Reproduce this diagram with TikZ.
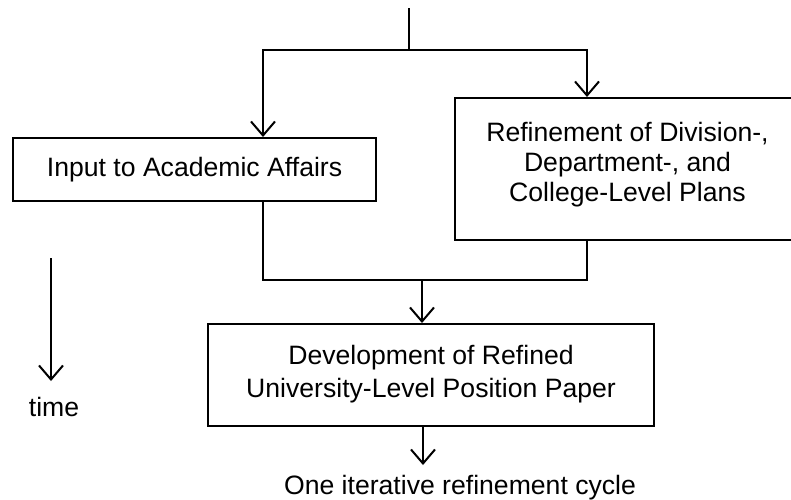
\documentclass[tikz,border=0pt]{standalone}
\usepackage{fontspec}
\setmainfont{Liberation Sans}
\usetikzlibrary{arrows.meta}
\begin{document}
\begin{tikzpicture}[x=1pt,y=1pt,
  font=\fontsize{26.6}{30}\selectfont,
  line width=2pt,
  box/.style={draw,line width=2pt,rectangle,align=center,inner sep=0pt},
  arr/.style={-{Straight Barb[length=14pt,width=24pt,line width=2pt]}}]
\useasboundingbox (0,0) rectangle (791,-499);
\node[box,minimum width=363pt,minimum height=63pt] (input) at (194.5,-169.5) {Input to Academic Affairs};
\node[box,minimum width=345pt,minimum height=142pt,text depth=14pt] (refine) at (627.5,-169) {Refinement of Division-,\\Department-, and\\College-Level Plans};
\node[box,minimum width=446pt,minimum height=102pt,text depth=8pt] (dev) at (431,-375) {Development of Refined\\[3pt]University-Level Position Paper};
\node (cycle) at (460,-488) {One iterative refinement cycle};
\node (time) at (54,-407) {time};
\coordinate (top) at (409,-8);
\coordinate (split) at (409,-50);
\coordinate (tstart) at (51,-258);
\coordinate (tend) at (51,-381);
\coordinate (join) at (422,-280);
\draw (top) -- (split);
\draw[arr] (split) -| (input.north -| 263,0);
\draw[arr] (split) -| (refine.north -| 587,0);
\draw (input.south -| 263,0) |- (join);
\draw (refine.south -| 587,0) |- (join);
\draw[arr] (join) -- (dev.north -| join);
\draw[arr] (dev.south -| 423,0) -- (423,-465);
\draw[arr] (tstart) -- (tend);
\end{tikzpicture}
\end{document}
